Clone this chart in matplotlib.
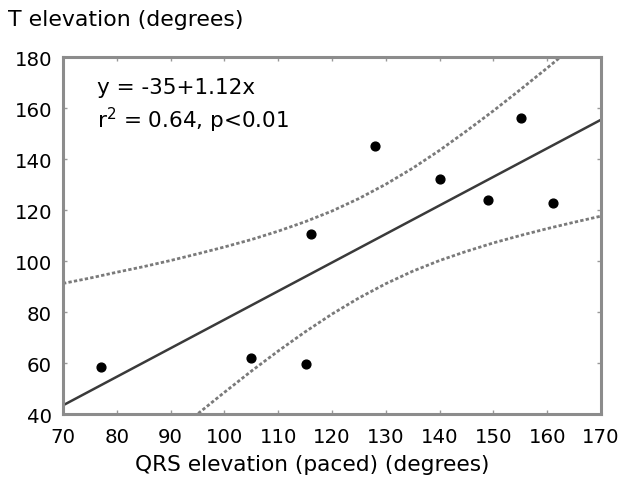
import matplotlib
matplotlib.use("Agg")
import matplotlib.pyplot as plt
import numpy as np

# scatter points
qrs = [77, 105, 115.2, 116.1, 128, 140.1, 149, 155.1, 161.1]
t_elev = [58.5, 62, 59.6, 110.6, 145, 132.2, 123.9, 156.1, 122.7]

# regression line y = -35 + 1.12x
intercept = -35
slope = 1.12

# confidence bands, read at steps of 5 degrees
band_x = [70, 75, 80, 85, 90, 95, 100, 105, 110, 115, 120, 125, 130, 135,
          140, 145, 150, 155, 160, 165, 170]
band_upper = [91.2, 93.3, 95.6, 97.8, 100.2, 102.8, 105.5, 108.4, 111.7, 115.4,
              119.6, 124.5, 130.1, 136.4, 143.4, 151.0, 158.9, 167.2, 175.7,
              184.4, 193.2]
band_lower = [-4.4, 4.7, 13.6, 22.6, 31.4, 40.0, 48.5, 56.8, 64.7, 72.2,
              79.2, 85.5, 91.1, 96.0, 100.2, 103.8, 107.1, 110.0, 112.7,
              115.2, 117.6]

xticks = [70, 80, 90, 100, 110, 120, 130, 140, 150, 160, 170]
yticks = [40, 60, 80, 100, 120, 140, 160, 180]

plt.rcParams['font.family'] = ['DejaVu Sans']

fig = plt.figure(figsize=(6.25, 4.81), dpi=100)
ax = fig.add_axes([0.1008, 0.1372, 0.8608, 0.7422])

line_x = np.array([70, 170])
ax.plot(line_x, intercept + slope * line_x, color='#3a3a3a', lw=1.8)
ax.plot(band_x, band_upper, color='#7a7a7a', lw=2.0, linestyle=(0, (1.2, 0.8)))
ax.plot(band_x, band_lower, color='#7a7a7a', lw=2.0, linestyle=(0, (1.2, 0.8)))
ax.scatter(qrs, t_elev, s=40, color='black', zorder=3)

ax.set_xlim(70, 170)
ax.set_ylim(40, 180)
ax.set_xticks(xticks)
ax.set_yticks(yticks)
ax.tick_params(direction='in', length=3, width=1, color='#999999',
               labelsize=14.2, top=True, right=True)
ax.tick_params(axis='x', pad=9)
ax.tick_params(axis='y', pad=8)
for sp in ax.spines.values():
    sp.set_color('#8c8c8c')
    sp.set_linewidth(2.2)

fig.text(0.4992, 0.0333, 'QRS elevation (paced) (degrees)', fontsize=15.6,
         ha='center', va='center')
fig.text(0.013, 0.958, 'T elevation (degrees)', fontsize=15.8, va='center')

ax.text(0.063, 0.916, 'y = -35+1.12x', transform=ax.transAxes, fontsize=15.5, va='center')
ax.text(0.063, 0.826, 'r$^2$ = 0.64, p<0.01', transform=ax.transAxes, fontsize=15.5, va='center')

fig.savefig('out.png', dpi=100)
